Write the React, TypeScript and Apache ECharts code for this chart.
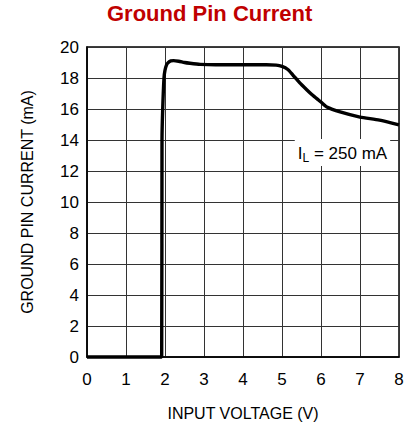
import React, { useEffect, useRef } from "react";
import * as echarts from "echarts";

const titleText = "Ground Pin Current";
const xAxisName = "INPUT VOLTAGE (V)";
const yAxisName = "GROUND PIN CURRENT (mA)";
const xTicks = { min: 0, max: 8, interval: 1 };
const yTicks = { min: 0, max: 20, interval: 2 };

const voltage = [
  0, 1.915, 1.923, 1.94, 1.974, 2.0, 2.04, 2.085, 2.15, 2.22, 2.35, 2.5, 2.64,
  2.9, 3.3, 4.0, 4.6, 4.85, 5.0, 5.15, 5.28, 5.45, 5.64, 5.78, 5.9, 6.0, 6.15,
  6.49, 7.0, 7.5, 8.0,
];
const current = [
  0, 0, 14.0, 15.9, 18.0, 18.5, 18.85, 19.0, 19.1, 19.12, 19.08, 19.0, 18.95,
  18.88, 18.85, 18.85, 18.85, 18.83, 18.75, 18.55, 18.19, 17.7, 17.23, 16.9,
  16.65, 16.45, 16.13, 15.81, 15.48, 15.28, 14.97,
];
const annotationPos = [6.55, 13.2];

const FONT = "'Liberation Sans', Arial, sans-serif";

export default function App() {
  const ref = useRef<HTMLDivElement>(null);
  useEffect(() => {
    if (!ref.current) return;
    const chart = echarts.init(ref.current, undefined, { renderer: "svg" });
    const data = voltage.map((v, i) => [v, current[i]]);
    chart.setOption({
      animation: false,
      backgroundColor: "#ffffff",
      title: {
        text: titleText,
        left: 102,
        top: -3,
        textStyle: {
          fontFamily: FONT,
          fontWeight: "bold",
          fontSize: 22,
          color: "#c00000",
        },
      },
      grid: {
        left: 87,
        right: 10,
        top: 47,
        bottom: 73,
        show: true,
        borderColor: "#000",
        borderWidth: 1.5,
      },
      xAxis: {
        type: "value",
        min: xTicks.min,
        max: xTicks.max,
        interval: xTicks.interval,
        name: xAxisName,
        nameLocation: "middle",
        nameGap: 48,
        nameTextStyle: { fontFamily: FONT, fontSize: 16, color: "#000" },
        axisLine: { show: true, lineStyle: { color: "#000", width: 1.5 } },
        axisTick: { show: false },
        axisLabel: {
          margin: 14,
          fontFamily: FONT,
          fontSize: 17,
          color: "#000",
        },
        splitLine: { show: true, lineStyle: { color: "#333", width: 1 } },
      },
      yAxis: {
        type: "value",
        min: yTicks.min,
        max: yTicks.max,
        interval: yTicks.interval,
        name: yAxisName,
        nameLocation: "middle",
        nameGap: 52,
        nameRotate: 90,
        nameTextStyle: { fontFamily: FONT, fontSize: 16, color: "#000" },
        axisLine: { show: true, lineStyle: { color: "#000", width: 1.5 } },
        axisTick: { show: false },
        axisLabel: {
          margin: 8,
          fontFamily: FONT,
          fontSize: 17,
          color: "#000",
        },
        splitLine: { show: true, lineStyle: { color: "#333", width: 1 } },
      },
      series: [
        {
          type: "line",
          data,
          showSymbol: false,
          symbol: "none",
          smooth: 0.2,
          clip: false,
          lineStyle: { color: "#000", width: 3.4 },
        },
      ],
    });
    const p = chart.convertToPixel({ gridIndex: 0 }, annotationPos) as number[];
    chart.setOption({
      graphic: [
        {
          type: "text",
          x: p[0],
          y: p[1],
          style: {
            text: "{a|I}{s|L}{a| = 250 mA}",
            align: "center",
            verticalAlign: "middle",
            backgroundColor: "#fff",
            padding: [4, 3, 2, 3],
            rich: {
              a: { fontFamily: FONT, fontSize: 17, color: "#000" },
              s: {
                fontFamily: FONT,
                fontSize: 12,
                color: "#000",
                padding: [9, 0, 0, 0],
              },
            },
          },
        },
      ],
    });
    return () => chart.dispose();
  }, []);
  return (
    <div
      ref={ref}
      style={{ position: "absolute", left: 0, top: 0, width: 409, height: 430 }}
    />
  );
}
